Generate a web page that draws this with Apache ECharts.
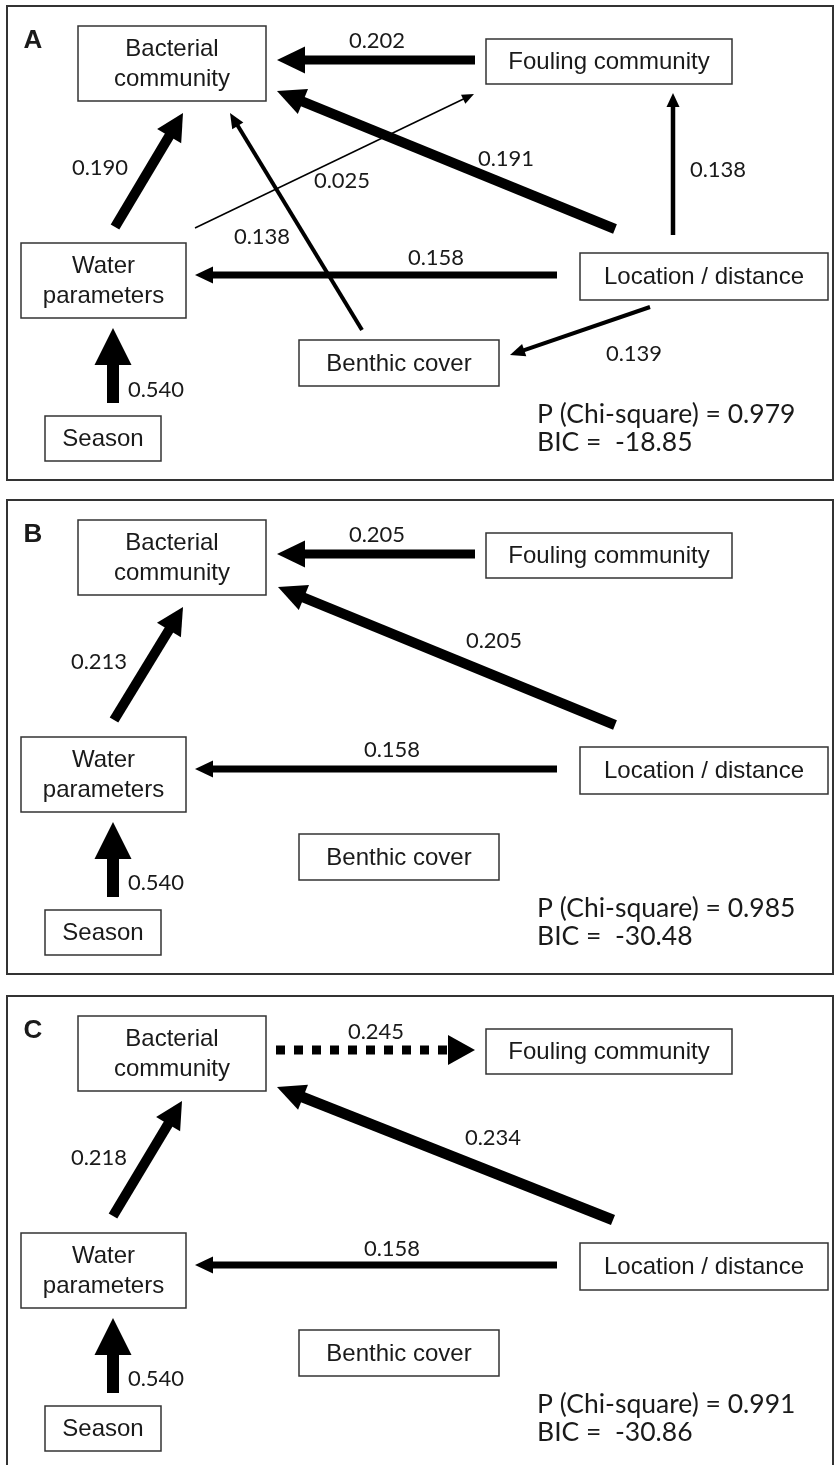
<!DOCTYPE html>
<html><head><meta charset="utf-8">
<script src="https://cdn.jsdelivr.net/npm/echarts@6/dist/echarts.min.js"></script>
<style>html,body{margin:0;padding:0;background:#fff}#c{width:836px;height:1465px}</style>
</head><body><div id="c"></div>
<script>
// ---------------- data ----------------
const panels = ['A', 'B', 'C'];
const chiSquareP = [0.979, 0.985, 0.991];
const bic = [-18.85, -30.48, -30.86];
const nodeKeys = ['Bacterial', 'Fouling', 'Water', 'Location', 'Benthic', 'Season'];
const nodeLabels = ['Bacterial\ncommunity', 'Fouling community', 'Water\nparameters', 'Location / distance', 'Benthic cover', 'Season'];
// paths: [from, to, standardized coefficient]
const pathsA = [
  ['Fouling', 'Bacterial', 0.202],
  ['Location', 'Bacterial', 0.191],
  ['Water', 'Bacterial', 0.190],
  ['Benthic', 'Bacterial', 0.138],
  ['Water', 'Fouling', 0.025],
  ['Location', 'Fouling', 0.138],
  ['Location', 'Water', 0.158],
  ['Location', 'Benthic', 0.139],
  ['Season', 'Water', 0.540]
];
const pathsB = [
  ['Fouling', 'Bacterial', 0.205],
  ['Location', 'Bacterial', 0.205],
  ['Water', 'Bacterial', 0.213],
  ['Location', 'Water', 0.158],
  ['Season', 'Water', 0.540]
];
const pathsC = [
  ['Bacterial', 'Fouling', 0.245],
  ['Location', 'Bacterial', 0.234],
  ['Water', 'Bacterial', 0.218],
  ['Location', 'Water', 0.158],
  ['Season', 'Water', 0.540]
];
const panelPaths = [pathsA, pathsB, pathsC];

// ---------------- layout (positions / styles) ----------------
const layout = {
  panelTop: [0, 494, 990],
  frame: [7, 6, 833, 480],
  letter: [33, 41],
  stats: [537, 414, 442],
  boxes: {
    Bacterial: [78, 26, 266, 101],
    Fouling: [486, 39, 732, 84],
    Water: [21, 243, 186, 318],
    Location: [580, 253, 828, 300],
    Benthic: [299, 340, 499, 386],
    Season: [45, 416, 161, 461]
  },
  edges: {
    'A:Fouling>Bacterial': { from: [475, 60], to: [277, 60], w: 9, hl: 28, hw: 27, lab: [377, 41] },
    'A:Location>Bacterial': { from: [615, 229], to: [277, 91], w: 10, hl: 28, hw: 27, lab: [506, 159] },
    'A:Water>Bacterial': { from: [115, 227], to: [183, 113], w: 10, hl: 27, hw: 28, lab: [100, 168] },
    'A:Benthic>Bacterial': { from: [362, 330], to: [230, 113], w: 4, hl: 15, hw: 13, lab: [262, 237] },
    'A:Water>Fouling': { from: [195, 228], to: [474, 94], w: 1.5, hl: 12, hw: 10, lab: [342, 181] },
    'A:Location>Fouling': { from: [673, 235], to: [673, 93], w: 4.5, hl: 14, hw: 13, lab: [718, 170] },
    'A:Location>Water': { from: [557, 275], to: [195, 275], w: 7, hl: 18, hw: 17, lab: [436, 258] },
    'A:Location>Benthic': { from: [650, 307], to: [510, 355], w: 4, hl: 15, hw: 13, lab: [634, 354] },
    'A:Season>Water': { from: [113, 403], to: [113, 328], w: 12, hl: 37, hw: 37, lab: [156, 390] },

    'B:Fouling>Bacterial': { from: [475, 60], to: [277, 60], w: 9, hl: 28, hw: 27, lab: [377, 41] },
    'B:Location>Bacterial': { from: [615, 231], to: [278, 93], w: 10, hl: 28, hw: 27, lab: [494, 147] },
    'B:Water>Bacterial': { from: [114, 226], to: [183, 113], w: 10, hl: 27, hw: 28, lab: [99, 168] },
    'B:Location>Water': { from: [557, 275], to: [195, 275], w: 7, hl: 18, hw: 17, lab: [392, 256] },
    'B:Season>Water': { from: [113, 403], to: [113, 328], w: 12, hl: 37, hw: 37, lab: [156, 389] },

    'C:Bacterial>Fouling': { from: [276, 60], to: [475, 60], w: 9, hl: 27, hw: 30, lab: [376, 42], dash: true },
    'C:Location>Bacterial': { from: [613, 230], to: [277, 97], w: 11, hl: 28, hw: 27, lab: [493, 148] },
    'C:Water>Bacterial': { from: [113, 226], to: [182, 111], w: 10, hl: 27, hw: 28, lab: [99, 168] },
    'C:Location>Water': { from: [557, 275], to: [195, 275], w: 7, hl: 18, hw: 17, lab: [392, 259] },
    'C:Season>Water': { from: [113, 403], to: [113, 328], w: 12, hl: 37, hw: 37, lab: [156, 389] }
  }
};

const BOX_FONT = '24px "Liberation Sans", Arial, sans-serif';
const NUM_FONT = '22px Lato, "Open Sans", sans-serif';
const STAT_FONT = '26.5px Lato, "Open Sans", sans-serif';
const LETTER_FONT = 'bold 26px "Liberation Sans", Arial, sans-serif';
const INK = '#1a1a1a';

// ---------------- build series data ----------------
const frameData = panels.map((p, i) => [i, 0]);
const boxData = [];
panels.forEach((p, pi) => nodeKeys.forEach((k, ni) => boxData.push([pi, ni])));
const pathData = [];
panelPaths.forEach((paths, pi) => paths.forEach((pa, ei) => pathData.push([pi, ei])));

function txt(x, y, text, font, align) {
  return {
    type: 'text',
    style: { text: text, x: x, y: y, font: font, fill: INK,
      align: align || 'center', verticalAlign: 'middle',
      textAlign: align || 'center', textVerticalAlign: 'middle', lineHeight: 30 }
  };
}

function renderFrame(params, api) {
  const pi = api.value(0);
  const off = layout.panelTop[pi];
  const f = layout.frame;
  const a = api.coord([f[0], f[1] + off]);
  const b = api.coord([f[2], f[3] + off]);
  const l = api.coord([layout.letter[0], layout.letter[1] + off]);
  const s1 = api.coord([layout.stats[0], layout.stats[1] + off]);
  const s2 = api.coord([layout.stats[0], layout.stats[2] + off]);
  return {
    type: 'group',
    children: [
      { type: 'rect', shape: { x: a[0], y: a[1], width: b[0] - a[0], height: b[1] - a[1] },
        style: { fill: 'none', stroke: '#333', lineWidth: 2 } },
      txt(l[0], l[1], panels[pi], LETTER_FONT),
      txt(s1[0], s1[1], 'P (Chi-square) = ' + chiSquareP[pi].toFixed(3), STAT_FONT, 'left'),
      txt(s2[0], s2[1], 'BIC =  ' + bic[pi].toFixed(2), STAT_FONT, 'left')
    ]
  };
}

function renderBox(params, api) {
  const pi = api.value(0), ni = api.value(1);
  const off = layout.panelTop[pi];
  const r = layout.boxes[nodeKeys[ni]];
  const a = api.coord([r[0], r[1] + off]);
  const b = api.coord([r[2], r[3] + off]);
  return {
    type: 'group',
    children: [
      { type: 'rect', shape: { x: a[0], y: a[1], width: b[0] - a[0], height: b[1] - a[1] },
        style: { fill: '#fff', stroke: '#333', lineWidth: 1.5 } },
      txt((a[0] + b[0]) / 2, (a[1] + b[1]) / 2 + 1, nodeLabels[ni], BOX_FONT)
    ]
  };
}

function renderPath(params, api) {
  const pi = api.value(0), ei = api.value(1);
  const off = layout.panelTop[pi];
  const pa = panelPaths[pi][ei];
  const g = layout.edges[panels[pi] + ':' + pa[0] + '>' + pa[1]];
  const p0 = api.coord([g.from[0], g.from[1] + off]);
  const p1 = api.coord([g.to[0], g.to[1] + off]);
  const dx = p1[0] - p0[0], dy = p1[1] - p0[1];
  const len = Math.hypot(dx, dy);
  const ux = dx / len, uy = dy / len, nx = -uy, ny = ux;
  const bx = p1[0] - ux * g.hl, by = p1[1] - uy * g.hl;
  const lab = api.coord([g.lab[0], g.lab[1] + off]);
  return {
    type: 'group',
    children: [
      { type: 'line', shape: { x1: p0[0], y1: p0[1], x2: bx + ux * 1.5, y2: by + uy * 1.5 },
        style: { stroke: '#000', lineWidth: g.w, lineCap: 'butt', lineDash: g.dash ? [9, 9] : null, fill: null } },
      { type: 'polygon', shape: { points: [[p1[0], p1[1]], [bx + nx * g.hw / 2, by + ny * g.hw / 2], [bx - nx * g.hw / 2, by - ny * g.hw / 2]] },
        style: { fill: '#000', stroke: null } },
      txt(lab[0], lab[1], pa[2].toFixed(3), NUM_FONT)
    ]
  };
}

const chart = echarts.init(document.getElementById('c'), null, { renderer: 'canvas' });
chart.setOption({
  animation: false,
  backgroundColor: '#fff',
  grid: { left: 0, right: 0, top: 0, bottom: 0 },
  xAxis: { type: 'value', min: 0, max: 836, show: false },
  yAxis: { type: 'value', min: 0, max: 1465, inverse: true, show: false },
  series: [
    { type: 'custom', name: 'frames', data: frameData, renderItem: renderFrame, silent: true, encode: { x: -1, y: -1 } },
    { type: 'custom', name: 'paths', data: pathData, renderItem: renderPath, silent: true, encode: { x: -1, y: -1 } },
    { type: 'custom', name: 'boxes', data: boxData, renderItem: renderBox, silent: true, encode: { x: -1, y: -1 } }
  ]
});
</script>
</body></html>
